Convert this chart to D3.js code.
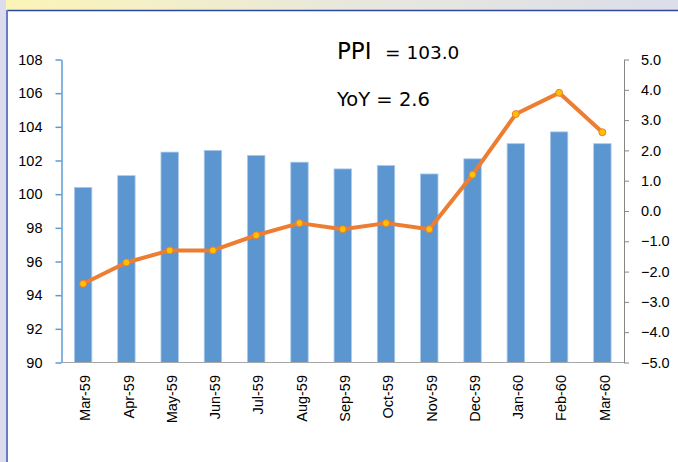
<!DOCTYPE html>
<html><head><meta charset="utf-8">
<script src="https://cdn.jsdelivr.net/npm/d3@7"></script>
<style>
html,body{margin:0;padding:0;background:#fff;}
svg{display:block;}
svg text{font-family:'Liberation Sans', Arial, sans-serif;}
svg text.ann{font-family:'DejaVu Sans', Verdana, sans-serif;}
</style></head>
<body>
<svg id="chart" width="678" height="462"></svg>
<script>
const categories = ["Mar-59","Apr-59","May-59","Jun-59","Jul-59","Aug-59","Sep-59","Oct-59","Nov-59","Dec-59","Jan-60","Feb-60","Mar-60"];
const ppiValues = [100.4,101.1,102.5,102.6,102.3,101.9,101.5,101.7,101.2,102.1,103.0,103.7,103.0];
const yoyValues = [-2.4,-1.7,-1.3,-1.3,-0.8,-0.4,-0.6,-0.4,-0.6,1.2,3.2,3.9,2.6];
const leftTicks = [90,92,94,96,98,100,102,104,106,108];
const rightTicks = [-5,-4,-3,-2,-1,0,1,2,3,4,5];

const svg = d3.select("#chart");
const W = 678, H = 462;

// frame / background
const defs = svg.append("defs");
const grad = defs.append("linearGradient").attr("id","topband").attr("x1","0").attr("x2","1").attr("y1","0").attr("y2","0");
grad.append("stop").attr("offset","0").attr("stop-color","#fcf5b6");
grad.append("stop").attr("offset","0.5").attr("stop-color","#e9e8dc");
grad.append("stop").attr("offset","1").attr("stop-color","#dcdeea");
svg.append("rect").attr("x",0).attr("y",0).attr("width",W).attr("height",H).attr("fill","#fff");
svg.append("rect").attr("x",0).attr("y",0).attr("width",W).attr("height",10).attr("fill","url(#topband)");
svg.append("rect").attr("x",0).attr("y",0).attr("width",6).attr("height",H).attr("fill","#dcdcec");
svg.append("line").attr("x1",7).attr("x2",W).attr("y1",10.5).attr("y2",10.5).attr("stroke","#2e4aa0").attr("stroke-width",1.5);
svg.append("line").attr("x1",7).attr("x2",7).attr("y1",10).attr("y2",H).attr("stroke","#6a7cc4").attr("stroke-width",2);

const pL = 61.5, pR = 624, pT = 59.5, pB = 362.5;

const xc = d3.scaleBand().domain(categories).range([pL, pR]);
const yL = d3.scaleLinear().domain([90,108]).range([pB, pT]);
const yR = d3.scaleLinear().domain([-5,5]).range([pB, pT]);

// bars
svg.append("g").selectAll("rect").data(ppiValues).join("rect")
  .attr("x",(d,i)=>xc(categories[i]) + xc.bandwidth()/2 - 8.7)
  .attr("width",17.4)
  .attr("y",d=>yL(d))
  .attr("height",d=>pB - yL(d))
  .attr("fill","#5b96d1")
  .attr("stroke","#a9c9ea")
  .attr("stroke-width",0.8);

// bottom axis line
svg.append("line").attr("x1",pL).attr("x2",pR).attr("y1",pB).attr("y2",pB).attr("stroke","#a6a6a6").attr("stroke-width",1);

// left axis
const gL = svg.append("g").attr("transform",`translate(${pL},0)`)
  .call(d3.axisLeft(yL).tickValues(leftTicks).tickSize(6).tickSizeOuter(0).tickFormat(d3.format("d")));
gL.attr("font-family",null).attr("font-size",null);
gL.select(".domain").attr("stroke","#5b9bd5").attr("stroke-width",1.5);
gL.selectAll(".tick line").attr("stroke","#5b9bd5").attr("stroke-width",1.5);
gL.selectAll("text").style("font-size","14.5px").attr("fill","#000").attr("x",-19);

// right axis
const gR = svg.append("g").attr("transform",`translate(${pR},0)`)
  .call(d3.axisRight(yR).tickValues(rightTicks).tickSize(5).tickSizeOuter(0).tickFormat(d3.format(".1f")));
gR.attr("font-family",null).attr("font-size",null);
gR.select(".domain").attr("stroke","#868686").attr("stroke-width",1);
gR.selectAll(".tick line").attr("stroke","#868686");
gR.selectAll("text").style("font-size","14.5px").attr("fill","#000").attr("x",17);

// x labels
svg.append("g").selectAll("text").data(categories).join("text")
  .attr("transform",d=>`translate(${xc(d)+xc.bandwidth()/2},375) rotate(-90)`)
  .attr("text-anchor","end")
  .attr("dy","0.5em")
  .style("font-size","14.5px").attr("fill","#000")
  .text(d=>d);

// line
const line = d3.line().x((d,i)=>xc(categories[i])+xc.bandwidth()/2).y(d=>yR(d));
svg.append("path").datum(yoyValues).attr("d",line).attr("fill","none")
  .attr("stroke","#ed7d31").attr("stroke-width",4).attr("stroke-linejoin","round").attr("stroke-linecap","round");
svg.append("g").selectAll("circle").data(yoyValues).join("circle")
  .attr("cx",(d,i)=>xc(categories[i])+xc.bandwidth()/2)
  .attr("cy",d=>yR(d))
  .attr("r",3.5)
  .attr("fill","#ffc000")
  .attr("stroke","#ed7d31").attr("stroke-width",1);

// annotation text
svg.append("text").attr("class","ann").attr("x",337).attr("y",59).style("font-size","23px").attr("fill","#000").text("PPI");
svg.append("text").attr("class","ann").attr("x",385).attr("y",59).style("font-size","18.5px").attr("fill","#000").text("= 103.0");
svg.append("text").attr("class","ann").attr("x",337).attr("y",106).style("font-size","19.5px").attr("fill","#000").text("YoY = 2.6");
</script>
</body></html>
